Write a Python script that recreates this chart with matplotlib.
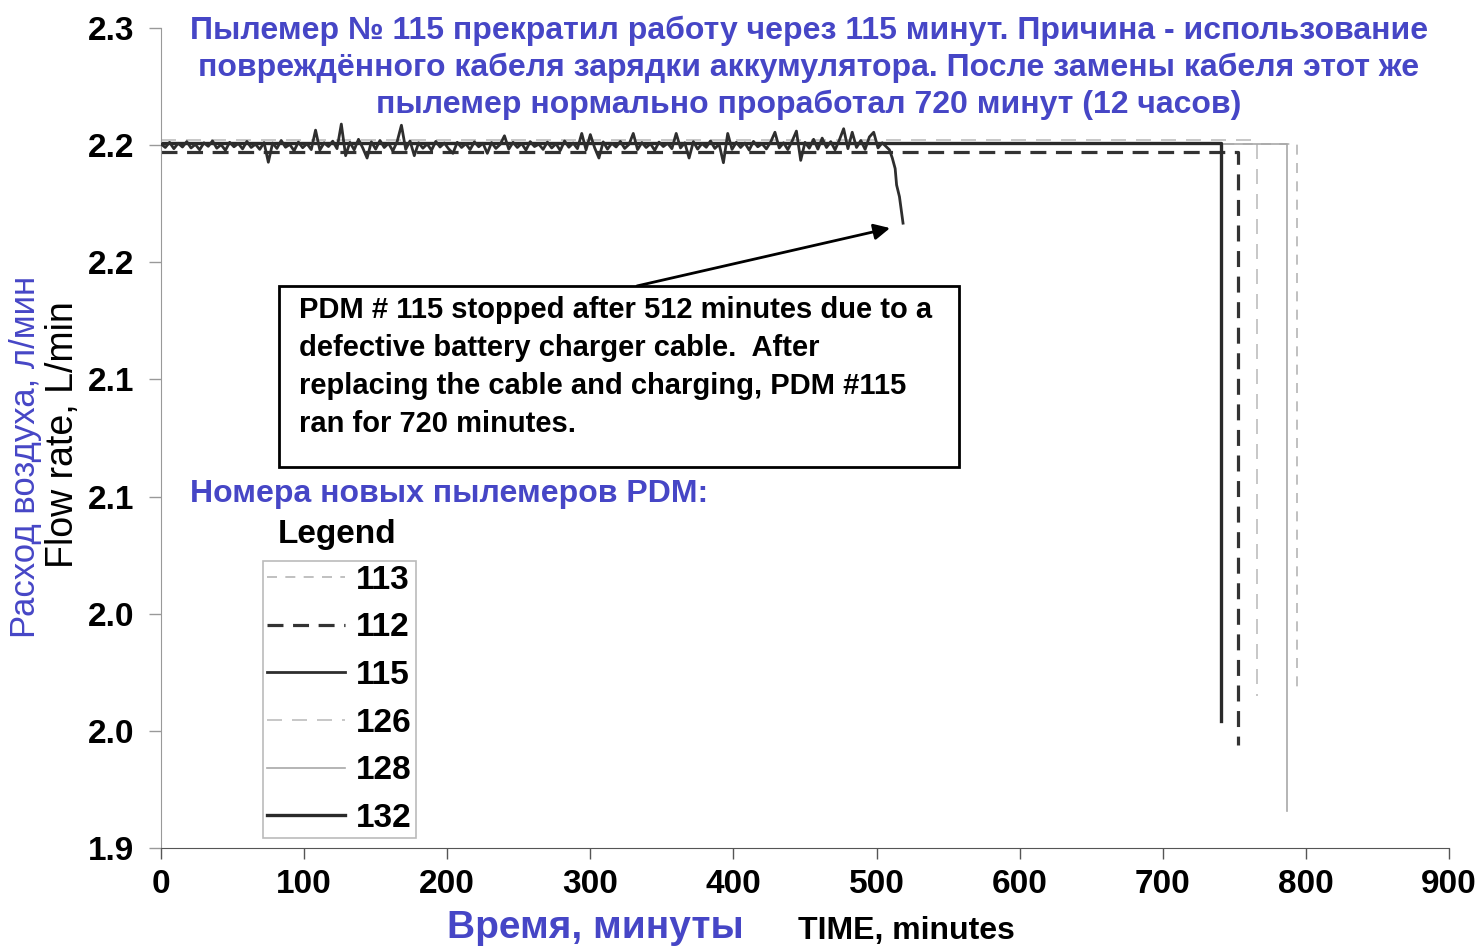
import numpy as np
import matplotlib
matplotlib.use("Agg")
import matplotlib.pyplot as plt
from matplotlib.lines import Line2D

# ---------------- data ----------------
y_ticks = [1.90, 1.95, 2.00, 2.05, 2.10, 2.15, 2.20, 2.25]
y_tick_labels = ["1.9", "2.0", "2.0", "2.1", "2.1", "2.2", "2.2", "2.3"]
x_ticks = [0, 100, 200, 300, 400, 500, 600, 700, 800, 900]

# PDM 115 - noisy record sampled every 3 minutes, then the drop
pdm115_step = 3
pdm115_flow = [
    2.2005, 2.1990, 2.2012, 2.1985, 2.2008, 2.1992, 2.2015, 2.1988, 2.2003, 2.1980,
    2.2010, 2.1995, 2.2018, 2.1987, 2.2002, 2.1978, 2.2012, 2.1993, 2.2007, 2.1984,
    2.2016, 2.1990, 2.2004, 2.1982, 2.2011, 2.1927, 2.2009, 2.1986, 2.2020, 2.1991,
    2.2003, 2.1976, 2.2013, 2.1989, 2.2006, 2.1981, 2.2064, 2.1979, 2.2010, 2.1994,
    2.2017, 2.1985, 2.2090, 2.1955, 2.2012, 2.1980, 2.2025, 2.1988, 2.1945, 2.2014,
    2.1983, 2.2020, 2.1990, 2.2008, 2.1975, 2.2015, 2.2085, 2.1982, 2.2018, 2.1955,
    2.2010, 2.1987, 2.2005, 2.1978, 2.2016, 2.1992, 2.2009, 2.1984, 2.1965, 2.2012,
    2.1990, 2.2006, 2.1981, 2.2014, 2.1993, 2.2008, 2.1965, 2.2011, 2.1986, 2.2003,
    2.2040, 2.1983, 2.2012, 2.1990, 2.2007, 2.1979, 2.2015, 2.1994, 2.2004, 2.1982,
    2.2013, 2.1988, 2.2006, 2.1977, 2.2018, 2.1991, 2.2009, 2.1985, 2.2050, 2.1980,
    2.2045, 2.1989, 2.1945, 2.2014, 2.1983, 2.2008, 2.1992, 2.2016, 2.1986, 2.2003,
    2.2050, 2.1981, 2.2011, 2.1990, 2.2006, 2.1978, 2.2013, 2.1994, 2.2008, 2.1985,
    2.2050, 2.1988, 2.2010, 2.1945, 2.2015, 2.1983, 2.2007, 2.1991, 2.2018, 2.1986,
    2.2004, 2.1925, 2.2050, 2.1982, 2.2012, 2.1990, 2.2009, 2.1979, 2.2016, 2.1993,
    2.2006, 2.1984, 2.2013, 2.2055, 2.1988, 2.2010, 2.1981, 2.2017, 2.2060, 2.1935,
    2.2012, 2.1987, 2.2025, 2.1983, 2.2030, 2.1990, 2.2015, 2.1980, 2.2022, 2.2070,
    2.1985, 2.2055, 2.1990, 2.2020, 2.1982, 2.2035, 2.2055, 2.1988, 2.2010, 2.1992,
]
pdm115_drop_time = [509, 511, 513, 514, 516, 518.5]
pdm115_drop_flow = [2.1980, 2.1945, 2.1900, 2.1830, 2.1780, 2.1667]

# other PDMs: steady level, stop time, last reading
pdm_names = ["113", "112", "126", "128", "132"]
pdm_level = [2.2004, 2.1970, 2.2021, 2.2004, 2.2009]
pdm_stop = [793.5, 752.5, 766.0, 786.5, 740.5]
pdm_last = [1.967, 1.944, 1.965, 1.916, 1.954]

legend_order = ["113", "112", "115", "126", "128", "132"]

# annotation arrow (minutes, L/min)
arrow_tail = (332.6, 2.1399)
arrow_head = (509.4, 2.1646)

# ---------------- styles ----------------
styles = {
    "113": dict(color="#b5b5b5", lw=1.2, ls=(0, (6, 5))),
    "112": dict(color="#333333", lw=2.3, ls=(0, (5, 3))),
    "115": dict(color="#2e2e2e", lw=2.0, ls="-"),
    "126": dict(color="#bdbdbd", lw=1.2, ls=(0, (9, 6))),
    "128": dict(color="#a8a8a8", lw=1.2, ls="-"),
    "132": dict(color="#2a2a2a", lw=2.4, ls="-"),
}

BLUE = "#4646c6"
ARIAL = ["Liberation Sans", "DejaVu Sans"]

fig = plt.figure(figsize=(14.82, 9.5), dpi=100)
ax = fig.add_axes([161 / 1482, 1 - 848 / 950, (1449 - 161) / 1482, (848 - 28) / 950])

# steady lines
for name, lvl, stop, last in zip(pdm_names, pdm_level, pdm_stop, pdm_last):
    st = styles[name]
    ax.plot([0, stop, stop], [lvl, lvl, last], color=st["color"], lw=st["lw"],
            ls=st["ls"], zorder=2 if name in ("132", "112") else 1)

# PDM 115
t115 = list(np.arange(len(pdm115_flow)) * pdm115_step) + pdm115_drop_time
f115 = pdm115_flow + pdm115_drop_flow
st = styles["115"]
ax.plot(t115, f115, color=st["color"], lw=st["lw"], ls=st["ls"], zorder=3)

ax.set_xlim(0, 900)
ax.set_ylim(1.90, 2.25)
ax.set_xticks(x_ticks)
ax.set_xticklabels([str(v) for v in x_ticks], fontsize=24, fontweight="bold", family=ARIAL)
ax.set_yticks(y_ticks)
ax.set_yticklabels(y_tick_labels, fontsize=24, fontweight="bold", family=ARIAL)
ax.tick_params(axis="y", direction="out", length=9, width=1, color="#999999", pad=10)
ax.tick_params(axis="x", direction="out", length=8, width=1, color="#555555", pad=7)
for s in ("top", "right"):
    ax.spines[s].set_visible(False)
ax.spines["left"].set_color("#999999")
ax.spines["bottom"].set_color("#555555")

# title text (Russian)
fig.text(809 / 1482, 1 - 68 / 950,
         "Пылемер № 115 прекратил работу через 115 минут. Причина - использование\n"
         "повреждённого кабеля зарядки аккумулятора. После замены кабеля этот же\n"
         "пылемер нормально проработал 720 минут (12 часов)",
         ha="center", va="center", fontsize=23, fontweight="bold", color=BLUE,
         family=ARIAL, linespacing=1.29)
# y-axis labels
fig.text(26 / 1482, 1 - 457 / 950, "Расход воздуха, л/мин", rotation=90, ha="center",
         va="center", fontsize=25, color=BLUE, family=ARIAL)
fig.text(63 / 1482, 1 - 435 / 950, "Flow rate, L/min", rotation=90, ha="center",
         va="center", fontsize=27, color="black", family=ARIAL)
# x-axis labels
fig.text(595 / 1482, 1 - 928 / 950, "Время, минуты", ha="center", va="center",
         fontsize=28, fontweight="bold", color=BLUE, family=ARIAL)
fig.text(906 / 1482, 1 - 931 / 950, "TIME, minutes", ha="center", va="center",
         fontsize=23, fontweight="bold", color="black", family=ARIAL)

# annotation box
ann_text = ("PDM # 115 stopped after 512 minutes due to a\n"
            "defective battery charger cable.  After\n"
            "replacing the cable and charging, PDM #115\n"
            "ran for 720 minutes.")
ax.annotate("", xy=arrow_head, xytext=arrow_tail,
            arrowprops=dict(arrowstyle="-|>", color="black", lw=2, mutation_scale=24,
                            shrinkA=0, shrinkB=0), zorder=5)
box = plt.Rectangle(((279 - 161) / 1288, (848 - 467) / 820), (959 - 279) / 1288,
                    (467 - 286) / 820, transform=ax.transAxes, fill=True,
                    facecolor="white", edgecolor="black", lw=2, zorder=6)
ax.add_patch(box)
ax.text((299 - 161) / 1288, (848 - 296) / 820, ann_text, transform=ax.transAxes,
        ha="left", va="top", fontsize=21, fontweight="bold", family=ARIAL,
        linespacing=1.45, zorder=7)

# legend headings
fig.text(190 / 1482, 1 - 494 / 950, "Номера новых пылемеров PDM:", ha="left", va="center",
         fontsize=23, fontweight="bold", color=BLUE, family=ARIAL)
fig.text(337 / 1482, 1 - 534 / 950, "Legend", ha="center", va="center",
         fontsize=24, fontweight="bold", color="black", family=ARIAL)

handles = [Line2D([], [], color=styles[n]["color"], lw=styles[n]["lw"], ls=styles[n]["ls"])
           for n in legend_order]
leg = ax.legend(handles, legend_order, loc="lower left",
                bbox_to_anchor=((263 - 161) / 1288, (848 - 838) / 820),
                borderaxespad=0, frameon=True, fancybox=False, handlelength=2.35,
                handletextpad=0.32, labelspacing=0.5, borderpad=0.12,
                prop=dict(family=ARIAL, weight="bold", size=24))
leg.get_frame().set_edgecolor("#aaaaaa")
leg.get_frame().set_linewidth(1.2)

fig.savefig("out.png", dpi=100)
